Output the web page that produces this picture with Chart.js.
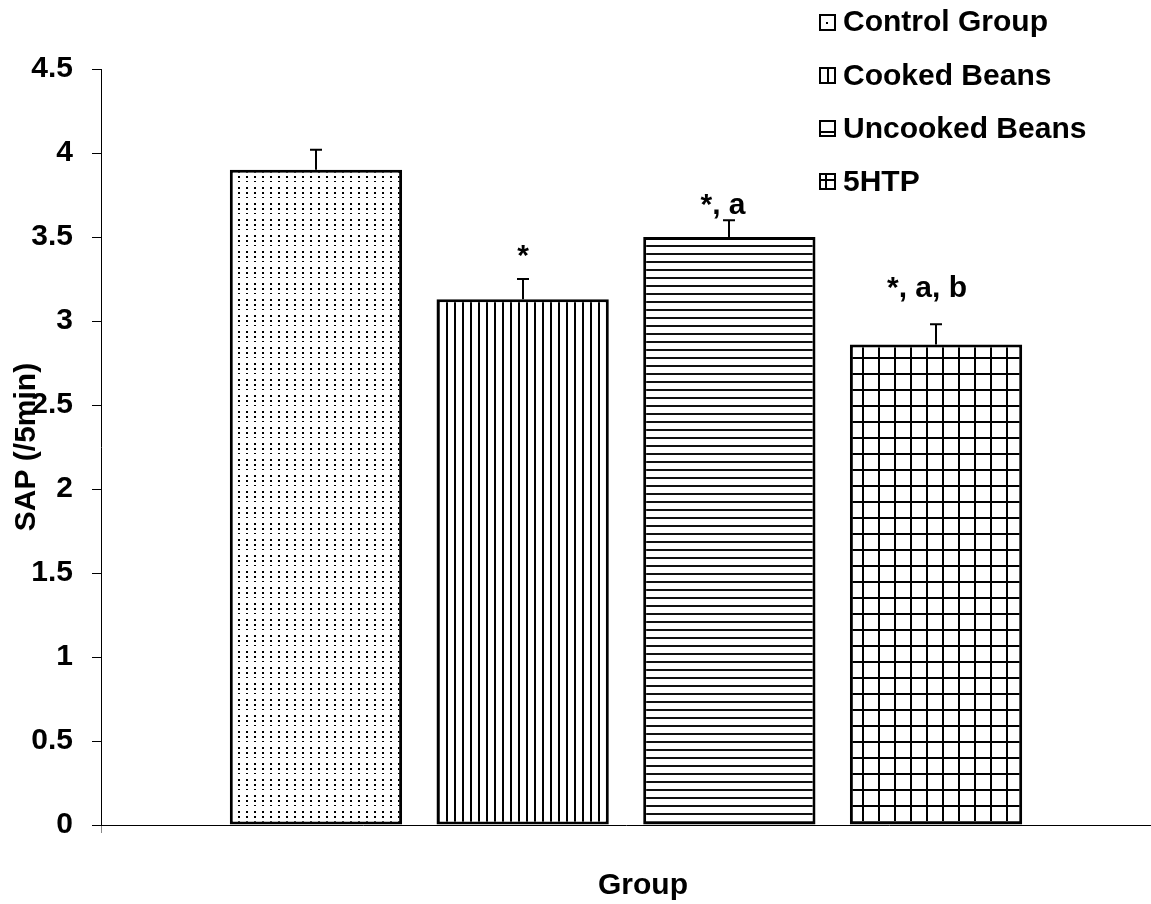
<!DOCTYPE html>
<html>
<head>
<meta charset="utf-8">
<script src="https://cdn.jsdelivr.net/npm/chart.js@4.4.1/dist/chart.umd.min.js"></script>
<style>
  html, body { margin: 0; padding: 0; background: #fff; overflow: hidden; }
  canvas { display: block; }
</style>
</head>
<body>
<canvas id="chart" width="1151" height="904"></canvas>
<script>
// Spontaneous activity (SAP per 5 min) by treatment group
const groups = ['Control Group', 'Cooked Beans', 'Uncooked Beans', '5HTP'];
const sapMeans = [3.90, 3.13, 3.50, 2.86];
const sapErrors = [0.12, 0.12, 0.10, 0.12];
const sigLabels = ['', '*', '*, a', '*, a, b'];
const yTickLabels = ['0', '0.5', '1', '1.5', '2', '2.5', '3', '3.5', '4', '4.5'];
const xAxisTitle = 'Group';

const FONT = 'Liberation Sans, Arial, sans-serif';
const fillKinds = ['dots', 'vlines', 'hlines', 'grid'];

// Monochrome fill patterns, one per group
function makePattern(kind) {
  const c = document.createElement('canvas');
  const g = c.getContext('2d');
  if (kind === 'dots') {
    c.width = 8; c.height = 16;
    g.fillStyle = '#fff'; g.fillRect(0, 0, 8, 16);
    g.fillStyle = '#000';
    g.fillRect(6, 0, 2, 2);
    g.fillRect(6, 5, 2, 1);
    g.fillRect(6, 11, 2, 2);
  } else if (kind === 'vlines') {
    c.width = 8; c.height = 8;
    g.fillStyle = '#fff'; g.fillRect(0, 0, 8, 8);
    g.fillStyle = '#000';
    g.fillRect(6, 0, 2, 8);
  } else if (kind === 'hlines') {
    c.width = 8; c.height = 8;
    g.fillStyle = '#fff'; g.fillRect(0, 0, 8, 8);
    g.fillStyle = '#111';
    g.fillRect(0, 5, 8, 2);
  } else {
    c.width = 16; c.height = 16;
    g.fillStyle = '#fff'; g.fillRect(0, 0, 16, 16);
    g.fillStyle = '#000';
    g.fillRect(14, 0, 2, 16);
    g.fillRect(0, 5, 16, 2);
  }
  return g.createPattern(c, 'repeat');
}

const ctx = document.getElementById('chart').getContext('2d');
const fills = fillKinds.map(makePattern);

// Error bars and significance letters above each bar
const barExtras = {
  id: 'barExtras',
  afterDatasetsDraw(chart, args, opts) {
    const g = chart.ctx;
    const y = chart.scales.y;
    g.save();
    g.strokeStyle = '#000';
    g.fillStyle = '#000';
    g.lineWidth = 2;
    sapMeans.forEach((m, i) => {
      const bar = chart.getDatasetMeta(i).data[0];
      const x = Math.round(bar.x);
      const yTop = y.getPixelForValue(m);
      const yCap = y.getPixelForValue(m + sapErrors[i]);
      g.beginPath();
      g.moveTo(x, yTop);
      g.lineTo(x, yCap);
      g.moveTo(x - 6, yCap);
      g.lineTo(x + 6, yCap);
      g.stroke();
      if (sigLabels[i]) {
        const off = opts.offsets[i];
        g.font = 'bold 30px ' + FONT;
        g.textAlign = 'center';
        g.textBaseline = 'alphabetic';
        g.fillText(sigLabels[i], x + off.dx, yCap - off.dy);
      }
    });
    g.restore();
  }
};

// Small legend swatches: a single motif of each fill inside a square
function drawSwatch(g, kind, bx, by) {
  g.fillStyle = '#fff';
  g.fillRect(bx, by, 17, 17);
  g.fillStyle = '#000';
  if (kind === 'dots') {
    g.fillRect(bx + 7, by + 8, 2, 2);
  } else if (kind === 'vlines') {
    g.fillRect(bx + 8, by, 2, 17);
  } else if (kind === 'hlines') {
    g.fillRect(bx, by + 11, 17, 2);
  } else {
    g.fillRect(bx + 6, by, 2, 17);
    g.fillRect(bx, by + 6, 17, 2);
  }
  g.strokeStyle = '#000';
  g.lineWidth = 2;
  g.strokeRect(bx + 1, by + 1, 15, 15);
}

// Vertical legend in the top-right corner, plus the category axis title
const sideLegend = {
  id: 'sideLegend',
  afterDraw(chart, args, opts) {
    const g = chart.ctx;
    g.save();
    chart.data.datasets.forEach((ds, i) => {
      const cy = opts.top + i * opts.step;
      drawSwatch(g, fillKinds[i], opts.left, Math.round(cy - 8.5));
      g.fillStyle = '#000';
      g.font = 'bold 30px ' + FONT;
      g.textAlign = 'left';
      g.textBaseline = 'middle';
      g.fillText(ds.label, opts.left + 24, cy + 1);
    });
    const a = chart.chartArea;
    g.font = 'bold 30px ' + FONT;
    g.textAlign = 'center';
    g.textBaseline = 'alphabetic';
    g.fillText(xAxisTitle, (a.left + a.right) / 2 + opts.titleDx, a.bottom + opts.titleDy);
    g.restore();
  }
};

new Chart(ctx, {
  type: 'bar',
  data: {
    labels: [''],
    datasets: groups.map((name, i) => ({
      label: name,
      data: [sapMeans[i]],
      backgroundColor: fills[i],
      borderColor: '#000',
      borderWidth: 3,
      borderSkipped: false,
      categoryPercentage: 0.7874,
      barPercentage: 0.8336
    }))
  },
  options: {
    responsive: false,
    animation: false,
    devicePixelRatio: 1,
    layout: { padding: { top: 69, left: 0, right: 0, bottom: 0 } },
    plugins: {
      legend: { display: false },
      tooltip: { enabled: false },
      barExtras: {
        offsets: [
          { dx: 0, dy: 0 },
          { dx: 0, dy: 14 },
          { dx: -6, dy: 6.5 },
          { dx: -9, dy: 27 }
        ]
      },
      sideLegend: { left: 819, top: 22, step: 53.3, titleDx: 17, titleDy: 69 }
    },
    scales: {
      x: {
        grid: { drawOnChartArea: false, tickLength: 8, color: '#888' },
        border: { color: '#000', width: 1 },
        ticks: { display: false },
        title: { display: false },
        afterFit(scale) { scale.height = 79; }
      },
      y: {
        min: 0, max: 4.5,
        ticks: {
          stepSize: 0.5,
          color: '#000',
          padding: 19,
          font: { family: FONT, size: 30, weight: 'bold' },
          callback: (value, index) => yTickLabels[index]
        },
        grid: { drawOnChartArea: false, tickLength: 9, color: '#000' },
        border: { color: '#000', width: 1 },
        title: {
          display: true, text: 'SAP (/5min)', color: '#000',
          font: { family: FONT, size: 30, weight: 'bold' },
          padding: { top: 9, bottom: 0 }
        },
        afterFit(scale) { scale.width = 101; }
      }
    }
  },
  plugins: [barExtras, sideLegend]
});
</script>
</body>
</html>
